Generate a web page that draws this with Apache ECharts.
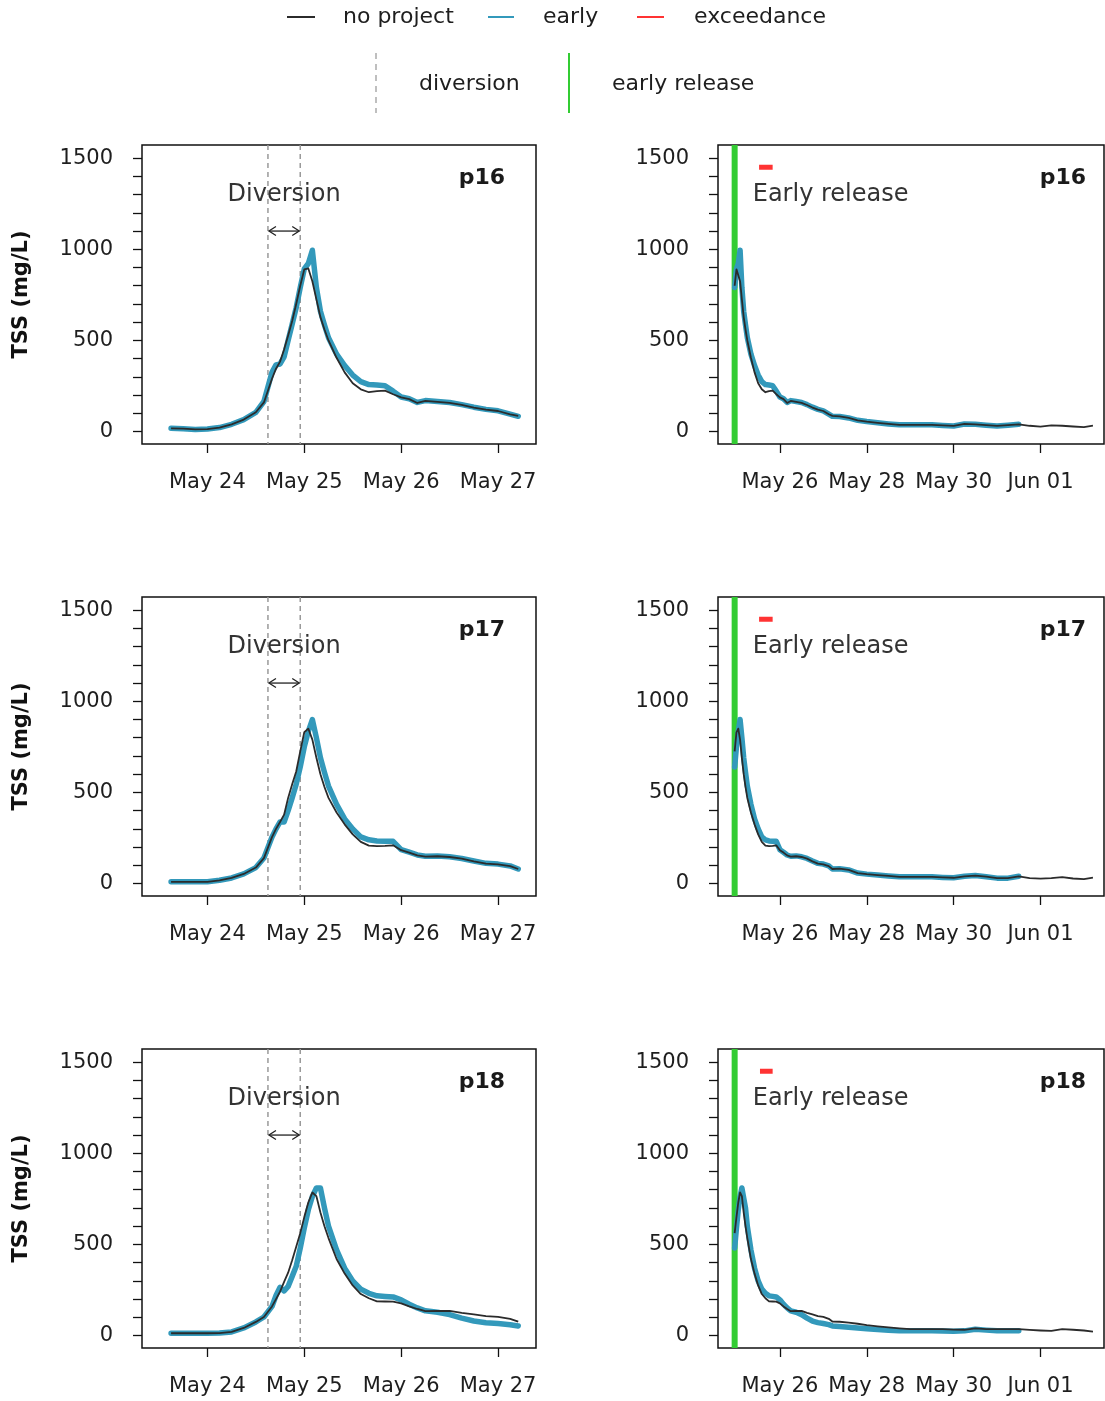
<!DOCTYPE html>
<html>
<head>
<meta charset="utf-8">
<script src="https://cdn.jsdelivr.net/npm/echarts@6/dist/echarts.min.js"></script>
<style>
html,body{margin:0;padding:0;background:#fff;}
#c{width:1105px;height:1401px;}
</style>
</head>
<body>
<div id="c"></div>
<script>
// ---- data (time in hours after May 23 00:00) ----
const hours = [15, 18, 21, 24, 27, 30, 33, 36, 38, 40,
  41, 42, 43, 44, 45, 46, 47, 48, 49, 50,
  51, 52, 53, 54, 56, 58, 60, 62, 64, 66,
  68, 70, 72, 74, 76, 78, 81, 84, 87, 90,
  93, 96, 99, 101, 105, 110, 115, 120, 126, 132,
  138, 144, 150, 156, 162, 168, 174, 180, 186, 192,
  198, 204, 210, 216, 222, 228, 234, 240, 245];

const noProject16 = [18, 16, 12, 14, 22, 40, 66, 106, 160, 290,
  345, 384, 450, 527, 607, 700, 800, 890, 895, 825,
  725, 628, 560, 500, 405, 325, 265, 232, 216, 222,
  225, 205, 188, 178, 157, 168, 163, 158, 146, 132,
  121, 113, 95, 86, 84, 75, 62, 55, 48, 42,
  37, 37, 37, 37, 34, 31, 42, 40, 35, 31,
  35, 40, 32, 27, 34, 32, 28, 25, 33];
const early16 = [18, 16, 12, 14, 22, 40, 66, 106, 165, 325,
  366, 371, 410, 500, 590, 680, 790, 892, 922, 995,
  790, 660, 585, 515, 425, 362, 310, 274, 258, 256,
  252, 222, 190, 180, 160, 170, 165, 160, 148, 134,
  122, 114, 96, 84, 83, 75, 62, 55, 48, 42,
  37, 37, 37, 37, 34, 31, 42, 40, 35, 31,
  35, 40, null, null, null, null, null, null, null];

const noProject17 = [10, 10, 10, 10, 18, 31, 53, 88, 140, 255,
  300, 338, 378, 470, 545, 615, 725, 830, 850, 790,
  690, 600, 530, 470, 390, 325, 270, 229, 208, 206,
  207, 210, 183, 170, 155, 148, 150, 146, 137, 122,
  110, 106, 96, 80, 82, 75, 58, 52, 47, 42,
  37, 37, 37, 37, 34, 32, 40, 44, 38, 30,
  30, 40, 30, 27, 30, 36, 28, 25, 33];
const early17 = [10, 10, 10, 10, 18, 31, 53, 88, 140, 255,
  300, 338, 338, 400, 470, 545, 640, 750, 835, 900,
  800, 690, 610, 535, 435, 355, 300, 256, 240, 234,
  232, 232, 186, 172, 157, 150, 152, 147, 138, 124,
  111, 107, 97, 80, 82, 75, 58, 52, 47, 42,
  37, 37, 37, 37, 34, 32, 40, 44, 38, 30,
  30, 40, null, null, null, null, null, null, null];

const noProject18 = [13, 13, 13, 13, 14, 20, 42, 75, 102, 160,
  200, 241, 295, 345, 413, 487, 562, 650, 730, 785,
  765, 675, 600, 535, 420, 340, 275, 228, 205, 188,
  187, 186, 177, 160, 146, 134, 135, 136, 125, 116,
  107, 103, 92, 77, 76, 71, 65, 58, 51, 45,
  40, 36, 35, 35, 35, 33, 32, 40, 36, 35,
  35, 35, 31, 28, 26, 35, 32, 28, 22];
const early18 = [13, 13, 13, 13, 14, 20, 42, 75, 102, 160,
  220, 265, 245, 270, 325, 380, 480, 590, 690, 763,
  810, 810, 700, 600, 470, 370, 300, 255, 232, 218,
  215, 212, 196, 172, 152, 136, 128, 115, 96, 80,
  71, 66, 60, 53, 50, 46, 42, 38, 33, 30,
  27, 27, 26, 26, 25, 24, 26, 35, 30, 26,
  27, 27, null, null, null, null, null, null, null];

const stations = ['p16', 'p17', 'p18'];
const noProjectSeries = [noProject16, noProject17, noProject18];
const earlySeries = [early16, early17, early18];

const diversionStart = 39;     // May 24 15:00
const diversionEnd = 47;       // May 24 23:00
const earlyReleaseHour = 47;
const leftEndHour = 101;
const exceedStart = [60.5, 60.5, 61];
const exceedEnd = [68, 68, 68];
const exceedLevel = 1450;
const arrowLevel = 1100;
const textLevel = 1300;
const earlyTextHour = 57;

const leftTickHours = [24, 48, 72, 96];
const leftTickLabels = ['May 24', 'May 25', 'May 26', 'May 27'];
const rightTickHours = [72, 120, 168, 216];
const rightTickLabels = ['May 26', 'May 28', 'May 30', 'Jun 01'];
const yTickValues = [0, 100, 200, 300, 400, 500, 600, 700, 800, 900, 1000, 1100, 1200, 1300, 1400, 1500];
const yLabelValues = [0, 500, 1000, 1500];

// ---- styles ----
const FONT = 'DejaVu Sans';
const BLACK = '#2b2b2b';
const BLUE = '#3399bb';
const RED = '#ff3333';
const GREEN = '#33cc33';
const TXT = '#1e1e1e';

const chart = echarts.init(document.getElementById('c'), null, {renderer: 'canvas'});

const option = {animation: false, backgroundColor: '#fff', grid: [], xAxis: [], yAxis: [], series: [], graphic: []};

function pairs(arr, keep) {
  const out = [];
  for (let i = 0; i < hours.length; i++) {
    if (arr[i] == null) continue;
    if (!keep(hours[i])) continue;
    out.push([hours[i], arr[i]]);
  }
  return out;
}

function divRender(params, api) {
  const cs = params.coordSys;
  const a = api.coord([api.value(0), api.value(2)]);
  const b = api.coord([api.value(1), api.value(2)]);
  const t = api.coord([(api.value(0) + api.value(1)) / 2, api.value(3)]);
  const dash = {stroke: '#9a9a9a', lineWidth: 1.5, lineDash: [5, 4], fill: null};
  const ar = {stroke: '#222', lineWidth: 1.3, fill: null};
  return {type: 'group', children: [
    {type: 'line', shape: {x1: a[0], y1: cs.y, x2: a[0], y2: cs.y + cs.height}, style: dash},
    {type: 'line', shape: {x1: b[0], y1: cs.y, x2: b[0], y2: cs.y + cs.height}, style: dash},
    {type: 'line', shape: {x1: a[0] + 1, y1: a[1], x2: b[0] - 1, y2: b[1]}, style: ar},
    {type: 'polyline', shape: {points: [[a[0] + 8, a[1] - 4.5], [a[0] + 1, a[1]], [a[0] + 8, a[1] + 4.5]]}, style: ar},
    {type: 'polyline', shape: {points: [[b[0] - 8, b[1] - 4.5], [b[0] - 1, b[1]], [b[0] - 8, b[1] + 4.5]]}, style: ar},
    {type: 'text', x: t[0], y: t[1], style: {text: 'Diversion', fontSize: 24, fontFamily: FONT, fill: '#333', align: 'center', verticalAlign: 'middle'}}
  ]};
}

function relRender(params, api) {
  const cs = params.coordSys;
  const g = api.coord([api.value(0), 0]);
  const t = api.coord([api.value(1), api.value(2)]);
  return {type: 'group', children: [
    {type: 'line', shape: {x1: g[0], y1: cs.y, x2: g[0], y2: cs.y + cs.height}, style: {stroke: GREEN, lineWidth: 6}},
    {type: 'text', x: t[0], y: t[1], style: {text: 'Early release', fontSize: 24, fontFamily: FONT, fill: '#333', align: 'left', verticalAlign: 'middle'}}
  ]};
}

const rowTop = [145, 597, 1049];
const gridH = 299;

for (let r = 0; r < 3; r++) {
  for (let c = 0; c < 2; c++) {
    const idx = r * 2 + c;
    const isLeft = c === 0;
    option.grid.push({
      left: isLeft ? 142 : 718, top: rowTop[r], width: isLeft ? 394 : 386, height: gridH,
      show: true, borderColor: '#111', borderWidth: 1.5, backgroundColor: 'transparent'
    });
    const ticks = isLeft ? leftTickHours : rightTickHours;
    const labels = isLeft ? leftTickLabels : rightTickLabels;
    option.xAxis.push({
      gridIndex: idx, type: 'value',
      min: isLeft ? 7.8 : 37.8, max: isLeft ? 105.4 : 251.1,
      axisLine: {show: false, onZero: false},
      axisTick: {show: true, customValues: ticks, length: 9, lineStyle: {color: '#111', width: 1.3}},
      axisLabel: {show: true, customValues: ticks, formatter: (v) => labels[ticks.indexOf(v)],
        margin: 28, fontSize: 21, fontFamily: FONT, color: TXT},
      splitLine: {show: false}
    });
    const ya = {
      gridIndex: idx, type: 'value', min: -68, max: 1572,
      axisLine: {show: false, onZero: false},
      axisTick: {show: true, customValues: yTickValues, length: 9, lineStyle: {color: '#111', width: 1.3}},
      axisLabel: {show: true, customValues: yLabelValues, formatter: (v) => String(v),
        margin: 29, fontSize: 21, fontFamily: FONT, color: TXT},
      splitLine: {show: false}
    };
    if (isLeft) {
      ya.name = 'TSS (mg/L)';
      ya.nameLocation = 'middle';
      ya.nameGap = 110;
      ya.nameRotate = 90;
      ya.nameTextStyle = {fontWeight: 'bold', fontSize: 21, fontFamily: FONT, color: '#111'};
    }
    option.yAxis.push(ya);

    const keep = isLeft ? (h) => h <= leftEndHour : (h) => h >= earlyReleaseHour;
    if (isLeft) {
      option.series.push({
        type: 'custom', xAxisIndex: idx, yAxisIndex: idx, z: 1, silent: true,
        renderItem: divRender, data: [[diversionStart, diversionEnd, arrowLevel, textLevel]]
      });
    } else {
      option.series.push({
        type: 'custom', xAxisIndex: idx, yAxisIndex: idx, z: 1, silent: true,
        renderItem: relRender, data: [[earlyReleaseHour, earlyTextHour, textLevel]]
      });
      option.series.push({
        type: 'line', xAxisIndex: idx, yAxisIndex: idx, z: 4, silent: true, showSymbol: false,
        lineStyle: {color: RED, width: 5, cap: 'butt'},
        data: [[exceedStart[r], exceedLevel], [exceedEnd[r], exceedLevel]]
      });
    }
    option.series.push({
      type: 'line', xAxisIndex: idx, yAxisIndex: idx, z: 2, silent: true, showSymbol: false,
      lineStyle: {color: BLUE, width: 5.5, cap: 'round', join: 'round'},
      data: pairs(earlySeries[r], keep)
    });
    option.series.push({
      type: 'line', xAxisIndex: idx, yAxisIndex: idx, z: 3, silent: true, showSymbol: false,
      lineStyle: {color: BLACK, width: 1.8, join: 'round'},
      data: pairs(noProjectSeries[r], keep)
    });
    option.graphic.push({
      type: 'text', right: isLeft ? (1105 - 505) : (1105 - 1086), top: rowTop[r] + 22,
      style: {text: stations[r], fontSize: 22, fontWeight: 'bold', fontFamily: FONT, fill: '#1a1a1a'}
    });
  }
}

// legend
const legendText = (x, y, t) => ({type: 'text', x: x, y: y, style: {text: t, fontSize: 22, fontFamily: FONT, fill: TXT, verticalAlign: 'middle'}});
option.graphic.push(
  {type: 'line', shape: {x1: 287, y1: 17, x2: 315, y2: 17}, style: {stroke: BLACK, lineWidth: 2}},
  legendText(343, 17, 'no project'),
  {type: 'line', shape: {x1: 488, y1: 17, x2: 514, y2: 17}, style: {stroke: BLUE, lineWidth: 2}},
  legendText(543, 17, 'early'),
  {type: 'line', shape: {x1: 637, y1: 17, x2: 664, y2: 17}, style: {stroke: RED, lineWidth: 2}},
  legendText(694, 17, 'exceedance'),
  {type: 'line', shape: {x1: 376, y1: 53, x2: 376, y2: 113}, style: {stroke: '#aaa', lineWidth: 1.5, lineDash: [6, 5]}},
  legendText(419, 84, 'diversion'),
  {type: 'line', shape: {x1: 569, y1: 53, x2: 569, y2: 113}, style: {stroke: GREEN, lineWidth: 2}},
  legendText(612, 84, 'early release')
);

chart.setOption(option);
</script>
</body>
</html>
